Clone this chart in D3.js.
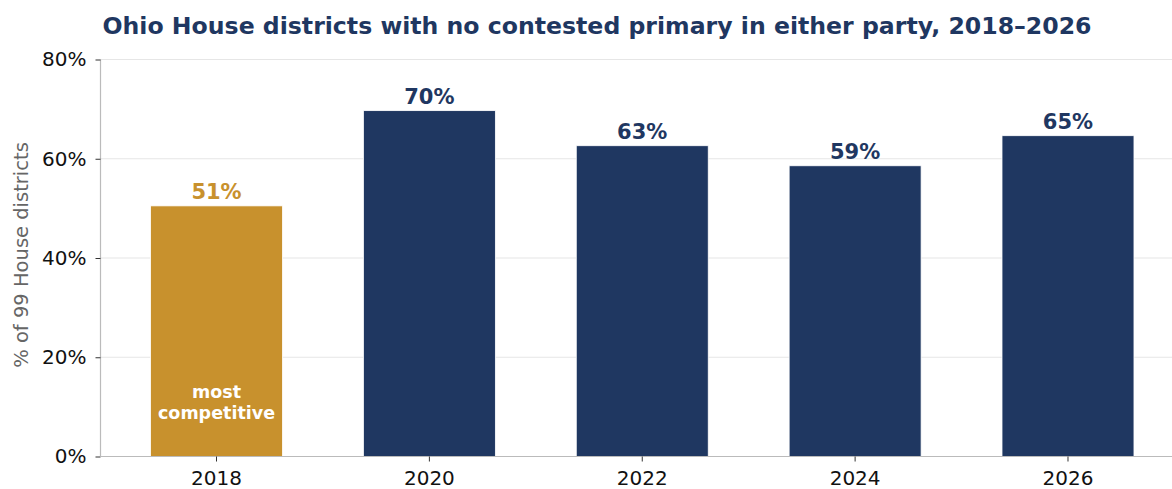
<!DOCTYPE html>
<html>
<head>
<meta charset="utf-8">
<script src="https://cdn.jsdelivr.net/npm/d3@7"></script>
<style>
  html, body { margin: 0; padding: 0; background: #fff; }
  svg { display: block; font-family: "DejaVu Sans", sans-serif; }
</style>
</head>
<body>
<svg id="chart" width="1172" height="489"></svg>
<script>
// Ohio House: share of the 99 districts with no contested primary in either party
const years = ["2018", "2020", "2022", "2024", "2026"];
const uncontested = [50, 69, 62, 58, 64];   // districts out of 99
const totalDistricts = 99;
const yTicks = [0, 20, 40, 60, 80];
const highlightYear = "2018";
const highlightNote = ["most", "competitive"];

const shares = uncontested.map(d => d / totalDistricts * 100);

const W = 1172, H = 489;
const margin = { left: 100.5, top: 59.5, bottom: 32.5 };
const plotBottom = H - margin.bottom;
const gold = "#C8912D", navy = "#1F3761";

const svg = d3.select("#chart");

const x = d3.scaleBand()
  .domain(years)
  .range([margin.left, 1184])
  .paddingInner(0.38)
  .paddingOuter(0.235);

const y = d3.scaleLinear().domain([0, 80]).range([plotBottom, margin.top]);

// horizontal gridlines
svg.append("g")
  .selectAll("line")
  .data(yTicks.filter(t => t > 0))
  .join("line")
  .attr("x1", margin.left).attr("x2", 1184)
  .attr("y1", d => y(d)).attr("y2", d => y(d))
  .attr("stroke", "#e6e6e6").attr("stroke-width", 1.2);

// bars
const rows = years.map((yr, i) => ({ yr, v: shares[i] }));
svg.append("g")
  .selectAll("rect")
  .data(rows)
  .join("rect")
  .attr("x", d => x(d.yr))
  .attr("width", x.bandwidth())
  .attr("y", d => y(d.v))
  .attr("height", d => y(0) - y(d.v))
  .attr("fill", d => d.yr === highlightYear ? gold : navy)
  .attr("stroke", "#ffffff").attr("stroke-width", 0.8);

// value labels
svg.append("g")
  .selectAll("text")
  .data(rows)
  .join("text")
  .attr("x", d => x(d.yr) + x.bandwidth() / 2)
  .attr("y", d => y(d.v) - 7)
  .attr("text-anchor", "middle")
  .attr("font-size", 21).attr("font-weight", "bold")
  .attr("fill", d => d.yr === highlightYear ? gold : navy)
  .text(d => Math.round(d.v) + "%");

// note inside the highlighted bar
svg.append("text")
  .attr("x", x(highlightYear) + x.bandwidth() / 2)
  .attr("text-anchor", "middle")
  .attr("font-size", 17.5).attr("font-weight", "bold")
  .attr("fill", "#ffffff")
  .selectAll("tspan")
  .data(highlightNote)
  .join("tspan")
  .attr("x", x(highlightYear) + x.bandwidth() / 2)
  .attr("y", (d, i) => 398 + i * 21)
  .text(d => d);

// y axis
const yAxis = svg.append("g")
  .attr("transform", `translate(${margin.left},0)`)
  .call(d3.axisLeft(y).tickValues(yTicks).tickFormat(d => d + "%").tickSize(5).tickPadding(9));
yAxis.select(".domain").attr("stroke", "#bbbbbb").attr("stroke-width", 1.2)
  .attr("d", `M0,${margin.top}V${plotBottom}`);
yAxis.selectAll(".tick line").attr("stroke", "#333").attr("stroke-width", 1);
yAxis.selectAll(".tick text").attr("font-size", 20).attr("fill", "#111")
  .attr("font-family", "DejaVu Sans, sans-serif");

// x axis
const xAxis = svg.append("g")
  .attr("transform", `translate(0,${plotBottom})`)
  .call(d3.axisBottom(x).tickSize(5).tickPadding(9));
xAxis.select(".domain").attr("stroke", "#bbbbbb").attr("stroke-width", 1.2)
  .attr("d", `M${margin.left},0H1184`);
xAxis.selectAll(".tick line").attr("stroke", "#333").attr("stroke-width", 1);
xAxis.selectAll(".tick text").attr("font-size", 20).attr("fill", "#111")
  .attr("font-family", "DejaVu Sans, sans-serif");

// y axis title
svg.append("text")
  .attr("transform", `translate(28,255) rotate(-90)`)
  .attr("text-anchor", "middle")
  .attr("font-size", 19.5).attr("fill", "#666")
  .text("% of 99 House districts");

// chart title
svg.append("text")
  .attr("x", 597).attr("y", 34)
  .attr("text-anchor", "middle")
  .attr("font-size", 23.6).attr("font-weight", "bold")
  .attr("fill", navy)
  .text("Ohio House districts with no contested primary in either party, 2018–2026");
</script>
</body>
</html>
